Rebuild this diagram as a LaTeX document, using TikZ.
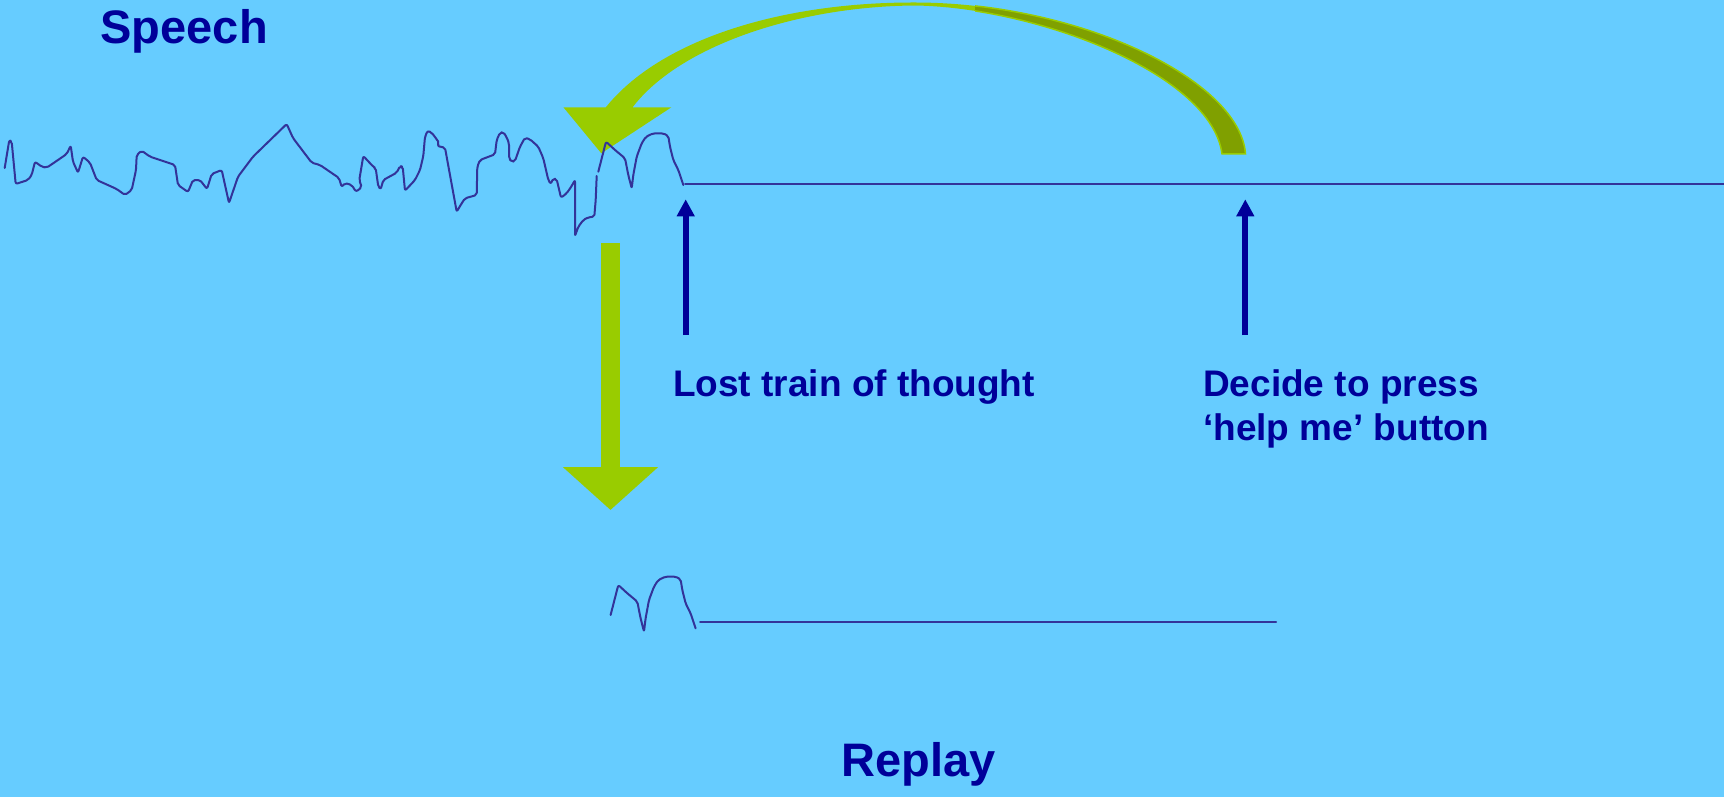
\documentclass[tikz,border=0pt]{standalone}
\usepackage{fontspec}
\setmainfont{Liberation Sans}
\usepackage{xcolor}
\usetikzlibrary{arrows.meta}

\definecolor{skyback}{RGB}{102,204,255}
\definecolor{navy}{RGB}{0,0,153}
\definecolor{wavecol}{RGB}{51,51,153}
\definecolor{leaf}{RGB}{153,204,0}
\definecolor{ribbonback}{RGB}{128,160,0}

% last bit of speech before the pause (re-used for the replay)
\newcommand{\speechtail}{(598.3,171.7) -- (606,141.7) -- (615,150) -- (625,158.3)
  -- (628.3,175) -- (631.7,188.3) -- (633.3,175) -- (636.7,156.7) -- (641.7,143.3)
  -- (646,136.7) -- (653.3,133.3) -- (663.3,133.3) -- (668.3,136) -- (670,146.7)
  -- (673.3,160) -- (678.3,170) -- (683.3,185)}

\begin{document}
\begin{tikzpicture}[x=1pt, y=-1pt,
    wave/.style={draw=wavecol, line width=2pt, line join=round, line cap=round, rounded corners=2pt},
    note/.style={text=navy, font=\bfseries\fontsize{37}{44.7}\selectfont, inner sep=0pt, anchor=base west, align=left},
    heading/.style={text=navy, font=\bfseries\fontsize{47}{56}\selectfont, inner sep=0pt, anchor=base west},
    pointer/.style={navy, line width=6pt, -{Triangle[width=17pt, length=17pt]}},
    bigarrow/.style={leaf, line width=19pt, -{Triangle[width=93pt, length=43pt]}}]

    % Background
    \useasboundingbox (0,0) rectangle (1724,797);
    \fill[skyback] (0,0) rectangle (1724,797);

    % Titles
    \node[heading] (speech) at (100.4,43.3) {Speech};
    \node[heading] (replay) at (841.4,776.7) {Replay};

    % Labels (base = last line)
    \node[note] (lost) at (673,396) {Lost train of thought};
    \node[note] (decide) at (1203,440.7) {Decide to press\\‘help me’ button};

    % Arrow ends
    \coordinate (lostFoot) at (685.7,335);
    \coordinate (lostTip) at (685.7,199.3);
    \coordinate (helpFoot) at (1245.3,335);
    \coordinate (helpTip) at (1245.3,199.3);
    \coordinate (cut) at (610.5,243);
    \coordinate (replayIn) at (610.5,510);

    % Curved ribbon arrow back to the pause
    \fill[leaf] (1245.5,154) .. controls (1240,80) and (1080,3) .. (916,2.5)
        .. controls (780,2) and (660,40) .. (605.8,107.3)
        -- (563.4,107.3) -- (601.3,153.3) -- (671.4,107.3) -- (632.6,107.3)
        .. controls (680,45) and (800,6) .. (916,5.5)
        .. controls (1040,8) and (1212,75) .. (1222,154) -- cycle;
    \begin{scope}
        \clip (975,-10) rectangle (1300,200);
        \filldraw[fill=ribbonback, draw=leaf, line width=1.5pt]
            (1245.5,154) .. controls (1240,80) and (1080,3) .. (916,2.5)
            -- (916,5.5) .. controls (1040,8) and (1212,75) .. (1222,154) -- cycle;
    \end{scope}

    % Down arrow to the replay
    \draw[bigarrow] (cut) -- (replayIn);

    % Pointers
    \draw[pointer] (lostFoot) -- (lostTip);
    \draw[pointer] (helpFoot) -- (helpTip);

    % Speech waveform
    \draw[wave] (4.7,168) -- (9.3,140) -- (11.7,141.7) -- (15.7,184) -- (28,180)
        -- (31.7,175) -- (35,161.7) -- (41.7,166.7) -- (46.7,167.7) -- (58,160)
        -- (66.7,154) -- (70.7,145.7) -- (73,161.7) -- (78,172.7) -- (83,156.7)
        -- (90,162.7) -- (96.7,180) -- (116.7,189) -- (125,195) -- (131.7,190)
        -- (136,170) -- (136.7,155) -- (141.7,150.7) -- (150,156.7) -- (175,165)
        -- (178,185) -- (188,192) -- (193,180) -- (200,180) -- (207,189)
        -- (211.7,174) -- (221.7,170) -- (229,203) -- (238,176.7) -- (253,156.7)
        -- (286.7,124) -- (293,138) -- (311.7,162.7) -- (320,165) -- (339,178)
        -- (341.7,187) -- (345,183) -- (351.7,185) -- (356,191.7) -- (361.7,187.3)
        -- (359.3,180) -- (363.3,156) -- (373.3,166.7) -- (375.7,168.3) -- (378.3,186.7)
        -- (380.7,189.3) -- (383.3,180) -- (396.7,172.7) -- (400,166) -- (402.7,166.7)
        -- (405,190.7) -- (415,180) -- (420,170) -- (423.3,156) -- (425,136.7)
        -- (427.7,130.7) -- (431.7,132.7) -- (436.7,139.3) -- (439.3,143.3) -- (437.3,146)
        -- (445,147.7) -- (456.7,211.7) -- (461.7,203.3) -- (465,198.3) -- (476.7,195)
        -- (477.3,166.7) -- (480,160) -- (495,154.3) -- (496.7,140) -- (500,132.7)
        -- (503.3,132) -- (506.7,137.3) -- (509,143.3) -- (509,158.3) -- (511.7,162)
        -- (515,161) -- (520,146.7) -- (525,137.7) -- (530,139.3) -- (538.3,146.7)
        -- (543.3,158.3) -- (548.3,180) -- (550.7,184) -- (553.3,178.3) -- (556.7,179.3)
        -- (561,197.7) -- (566.7,193.3) -- (571.7,186) -- (575,180) -- (575,236)
        -- (578.3,226.7) -- (583.3,220) -- (588.3,217.3) -- (594.3,216.7) -- (595.7,200)
        -- (596.7,176);
    \draw[wave] \speechtail;
    \draw[wave] (685,184) -- (1724,184);

    % Replayed waveform
    \draw[wave, shift={(12.3,443.3)}] \speechtail;
    \draw[wave] (700,622.3) -- (1276,622.3);
\end{tikzpicture}
\end{document}
